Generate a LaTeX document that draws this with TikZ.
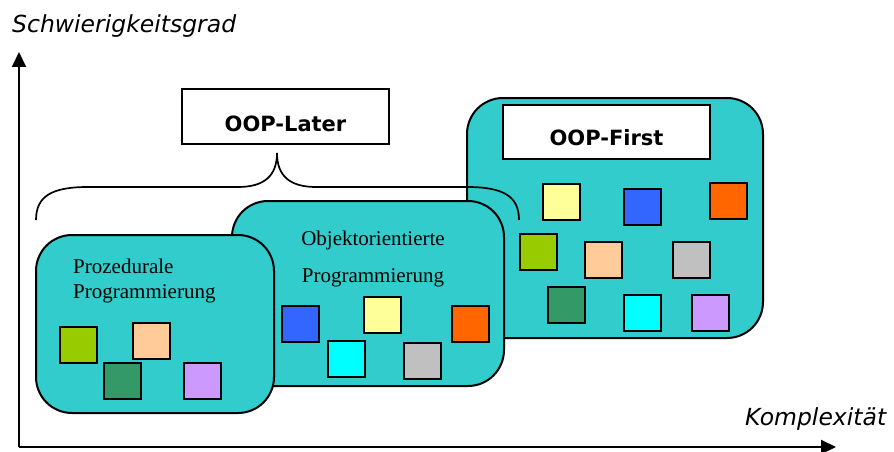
\documentclass[tikz,border=0pt]{standalone}
\usepackage{fontspec}
\setmainfont{Liberation Serif}
\newfontfamily\versans{DejaVu Sans}
\usetikzlibrary{arrows.meta}
\definecolor{teal1}{HTML}{33CCCC}
\definecolor{cYellow}{HTML}{FFFF99}
\definecolor{cBlue}{HTML}{3366FF}
\definecolor{cOrange}{HTML}{FF6600}
\definecolor{cLime}{HTML}{99CC00}
\definecolor{cPeach}{HTML}{FFCC99}
\definecolor{cGray}{HTML}{C0C0C0}
\definecolor{cDark}{HTML}{339966}
\definecolor{cCyan}{HTML}{00FFFF}
\definecolor{cViolet}{HTML}{CC99FF}
\tikzset{
  blob/.style={draw=black, line width=2pt, fill=teal1, rounded corners=36pt, inner sep=0pt},
  tile/.style={draw=black, line width=2pt, fill=#1, minimum width=37pt, minimum height=36pt, inner sep=0pt},
  labelbox/.style={draw=black, line width=1.6pt, fill=white, inner sep=0pt},
  boldlabel/.style={font=\versans\bfseries\fontsize{21}{25}\selectfont, anchor=base, inner sep=0pt},
  axislabel/.style={font=\versans\itshape\fontsize{23.5}{27}\selectfont, anchor=base west, inner sep=0pt},
  serif/.style={font=\fontsize{21}{25}\selectfont, inner sep=0pt},
  axis/.style={line width=2pt, -{Triangle[length=15pt,width=14pt]}},
}
\begin{document}
\begin{tikzpicture}[x=1pt,y=-1pt]
\useasboundingbox (0,0) rectangle (894,452);

% axes
\coordinate (o) at (19,447);
\coordinate (ytop) at (19,52);
\coordinate (xend) at (836,447);
\draw[axis] (o) -- (ytop);
\draw[axis] (o) -- (xend);
\node[axislabel] (ylab) at (12,33) {Schwierigkeitsgrad};
\node[axislabel] (xlab) at (745,425) {Komplexität};

% OOP-First group
\node[blob, minimum width=296pt, minimum height=240pt] (first) at (615,218) {};
\node[labelbox, minimum width=207pt, minimum height=54pt] (firstbox) at (606.5,132) {};
\node[boldlabel] (firsttxt) at (606.5,145) {OOP-First};
\node[tile=cYellow] (f1) at (561,202) {};
\node[tile=cBlue]   (f2) at (642,207) {};
\node[tile=cOrange] (f3) at (728.5,201) {};
\node[tile=cLime]   (f4) at (538,252) {};
\node[tile=cPeach]  (f5) at (603.5,260) {};
\node[tile=cGray]   (f6) at (691,260) {};
\node[tile=cDark]   (f7) at (566,305) {};
\node[tile=cCyan]   (f8) at (642,313) {};
\node[tile=cViolet] (f9) at (710,313) {};

% OOP-Later label and brace
\node[labelbox, minimum width=207pt, minimum height=55pt] (laterbox) at (285.5,116.5) {};
\node[boldlabel] (latertxt) at (285.5,131) {OOP-Later};
\coordinate (bl) at (36,220);
\coordinate (bm) at (277,153);
\coordinate (br) at (519,220);
\draw[line width=1.7pt]
  (bl) .. controls (36,196) and (52,187) .. (88,187) -- (238,187)
  .. controls (264,187) and (277,176) .. (bm)
  .. controls (277,176) and (290,187) .. (316,187) -- (467,187)
  .. controls (503,187) and (519,196) .. (br);

% object-oriented block
\node[blob, minimum width=272pt, minimum height=185pt] (oo) at (368,293.5) {};
\node[serif, anchor=base] (oo1) at (373,245) {Objektorientierte};
\node[serif, anchor=base] (oo2) at (373,282) {Programmierung};
\node[tile=cBlue]   (o1) at (300,324) {};
\node[tile=cYellow] (o2) at (382,315) {};
\node[tile=cOrange] (o3) at (470,324) {};
\node[tile=cCyan]   (o4) at (346,359) {};
\node[tile=cGray]   (o5) at (422,361) {};

% procedural block
\node[blob, minimum width=238pt, minimum height=178pt] (pr) at (155,324) {};
\node[serif, anchor=base west] (pr1) at (73,273) {Prozedurale};
\node[serif, anchor=base west] (pr2) at (73,298) {Programmierung};
\node[tile=cLime]   (p1) at (78.5,345) {};
\node[tile=cPeach]  (p2) at (151.5,341) {};
\node[tile=cDark]   (p3) at (122.5,381) {};
\node[tile=cViolet] (p4) at (202,381) {};
\end{tikzpicture}
\end{document}
